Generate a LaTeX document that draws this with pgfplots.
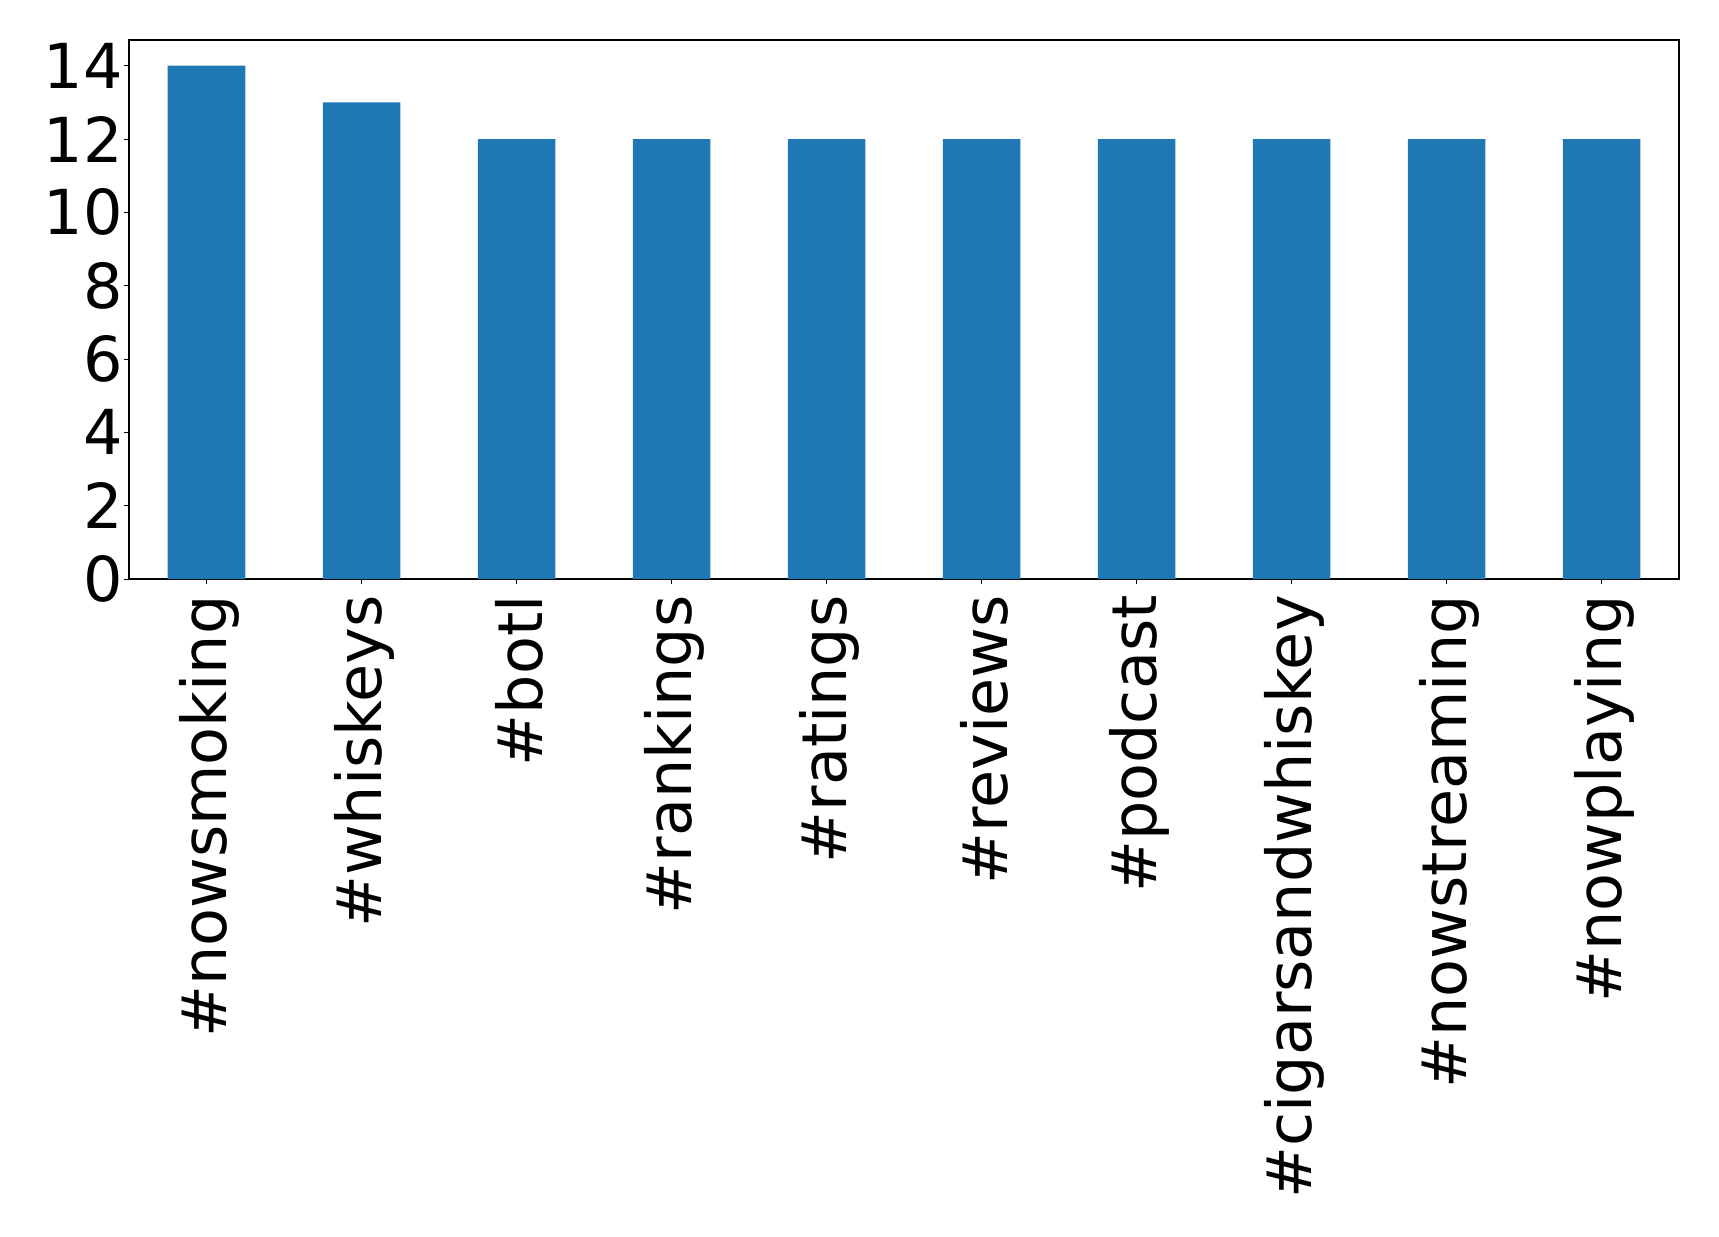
\documentclass[border=0pt]{standalone}
\usepackage{pgfplots}
\pgfplotsset{compat=1.18}
\usepackage{fontspec}
\setmainfont{DejaVu Sans}
\definecolor{mplblue}{HTML}{1F77B4}

\begin{document}
\begin{tikzpicture}
\begin{axis}[
    scale only axis,
    width=775pt, height=269.5pt,
    xmin=-0.5, xmax=9.5,
    ymin=0, ymax=14.7,
    xtick={0,...,9},
    xticklabels={\#nowsmoking,\#whiskeys,\#botl,\#rankings,\#ratings,\#reviews,\#podcast,\#cigarsandwhiskey,\#nowstreaming,\#nowplaying},
    ytick={0,2,...,14},
    tick align=outside,
    tick pos=left,
    major tick length=2.5pt,
    every tick/.style={black, line width=0.5pt},
    axis line style={line width=0.6pt},
    tick label style={font=\fontsize{31}{36}\selectfont},
    /pgf/number format/assume math mode=true,
    xticklabel shift=5.5pt,
    xticklabel style={rotate=90, anchor=east, inner sep=0pt, yshift=-1.5pt},
    yticklabel style={inner sep=0pt, xshift=-0.5pt},
]
\addplot[ybar, bar width=0.5, fill=mplblue, draw=none] coordinates {
    (0,14) (1,13) (2,12) (3,12) (4,12) (5,12) (6,12) (7,12) (8,12) (9,12)
};
\end{axis}
\path (current axis.south west) ++(-64.5pt,-328.5pt) rectangle ([shift={(20pt,20pt)}]current axis.north east);
\end{tikzpicture}
\end{document}
